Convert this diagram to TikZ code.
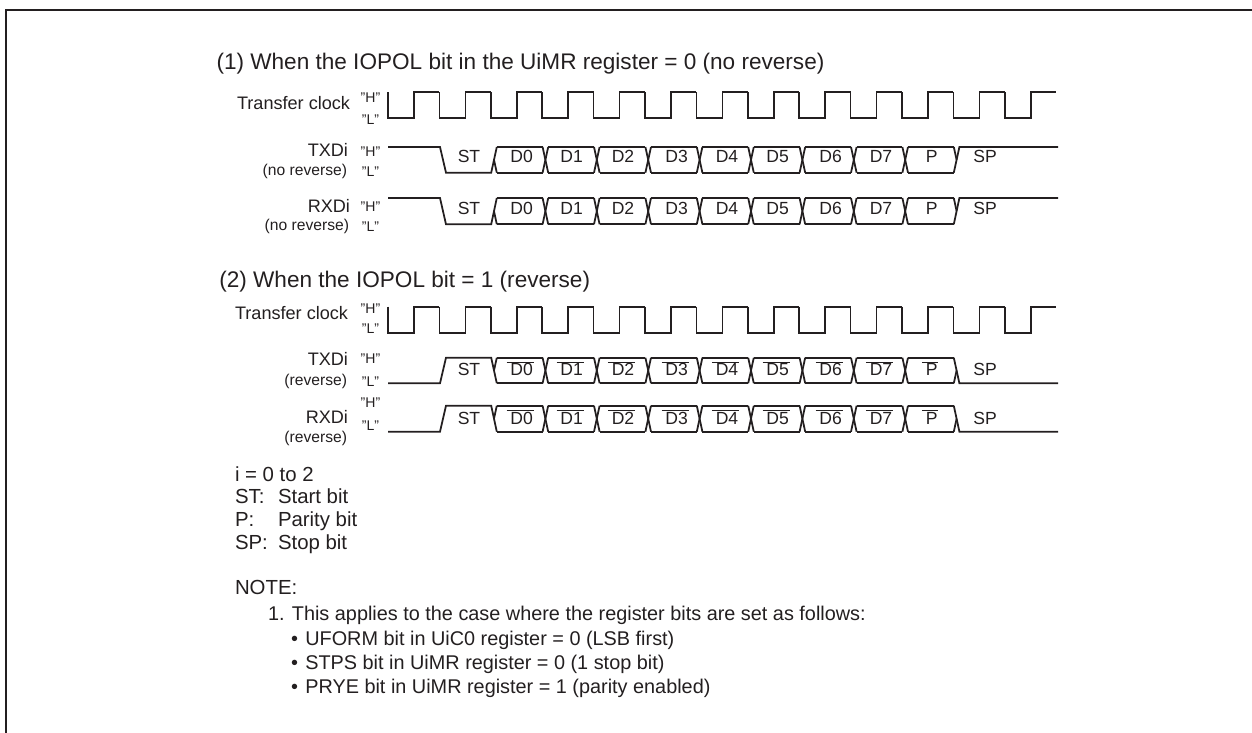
\documentclass[tikz,border=0pt]{standalone}
\usepackage{fontspec}
\setmainfont{Liberation Sans}
\usepackage{amsmath}
\usetikzlibrary{positioning}
\definecolor{ink}{HTML}{231F20}

\newcommand{\barred}[1]{%
  \setbox0=\hbox{#1}\rlap{\hspace{-2.2pt}\rule[7.5pt]{\dimexpr\wd0+2.6pt\relax}{0.45pt}}\box0}
\newcommand{\clockwave}[2]{%
  \foreach \k in {0,...,12}
    \draw[wave] ({388+51.4*\k},#1) -- ({388+51.4*\k},#2) -- ({414+51.4*\k},#2)
      -- ({414+51.4*\k},#1) -- ({439.4+51.4*\k},#1);
}
\newcommand{\datacells}[2]{%
  \foreach \k in {1,...,8} {
    \draw[wave] ({494+51.4*\k-2.8},#1) -- ({494+51.4*\k+2.8},#2);
    \draw[wave] ({494+51.4*\k-2.8},#2) -- ({494+51.4*\k+2.8},#1);
  }
  \foreach \k in {0,...,8} {
    \draw[wave] ({494+51.4*\k+2.8},#1) -- ({494+51.4*(\k+1)-2.8},#1);
    \draw[wave] ({494+51.4*\k+2.8},#2) -- ({494+51.4*(\k+1)-2.8},#2);
  }
}
%% no reverse: #1 = "H" level, #2 = "L" level
\newcommand{\framenorm}[2]{%
  \draw[wave] (388,#1) -- (440,#1) -- (446,#2) -- (491.2,#2) -- (496.8,#1);
  \draw[wave] (494,{(#1+#2)/2}) -- (496.8,#2);
  \datacells{#1}{#2}
  \draw[wave] (953.8,#1) -- (956.6,{(#1+#2)/2});
  \draw[wave] (953.8,#2) -- (959.4,#1) -- (1058,#1);
}
%% reverse
\newcommand{\framerev}[2]{%
  \draw[wave] (388,#2) -- (440,#2) -- (446,#1) -- (491.2,#1) -- (496.8,#2);
  \draw[wave] (494,{(#1+#2)/2}) -- (496.8,#1);
  \datacells{#1}{#2}
  \draw[wave] (953.8,#2) -- (956.6,{(#1+#2)/2});
  \draw[wave] (953.8,#1) -- (959.4,#2) -- (1058,#2);
}
\newcommand{\celltexts}[1]{%
  \foreach \name/\xpos in {ST/469,D0/521.7,D1/571.7,D2/623,D3/676.7,D4/727,D5/777.7,D6/830.7,D7/881,P/931.7,SP/985}
    \node[cell] at (\xpos,#1) {\name};
}
\newcommand{\celltextsrev}[1]{%
  \foreach \name/\xpos in {D0/521.7,D1/571.7,D2/623,D3/676.7,D4/727,D5/777.7,D6/830.7,D7/881,P/931.7}
    \node[cell] at (\xpos,#1) {\barred{\name}};
  \node[cell] at (469,#1) {ST};
  \node[cell] at (985,#1) {SP};
}

\begin{document}
\begin{tikzpicture}[
  x=0.02cm,y=-0.02cm,
  every node/.style={text=ink, inner sep=0pt, outer sep=0pt},
  wave/.style={draw=ink, line width=1pt, line join=miter},
  border/.style={draw=ink, line width=1.4pt},
  head/.style={anchor=base west, font=\fontsize{12.85}{15}\selectfont},
  legend/.style={anchor=base west, font=\fontsize{11.6}{14}\selectfont},
  notes/.style={anchor=base west, font=\fontsize{11.3}{14}\selectfont},
  signame/.style={anchor=base east, font=\fontsize{10.3}{12}\selectfont},
  polar/.style={anchor=base east, font=\fontsize{8.9}{10}\selectfont},
  lev/.style={anchor=base, font=\fontsize{8}{9}\selectfont},
  cell/.style={anchor=base, font=\fontsize{10}{11}\selectfont},
]
\useasboundingbox (0,0) rectangle (1252,733);

%% ---------- FRAME ----------
\draw[border] (6,733) -- (6,10) -- (1252,10);

%% ---------- CASE 1: NO REVERSE ----------
\node[head] (headone) at (216.5,69.5) {(1) When the IOPOL bit in the UiMR register = 0 (no reverse)};

\node[signame] (clkone) at (350,110) {Transfer clock};
\node[lev] at (370.5,103) {"H"};
\node[lev] at (370.5,125) {"L"};
\clockwave{92.3}{118.3}

\node[signame] (txdone) at (348,157) {TXDi};
\node[polar] at (347,176) {(no reverse)};
\node[lev] at (370.5,157) {"H"};
\node[lev] at (370.5,177) {"L"};
\framenorm{147}{172.7}
\celltexts{163}

\node[signame] (rxdone) at (350,213) {RXDi};
\node[polar] at (349,231) {(no reverse)};
\node[lev] at (370.5,212) {"H"};
\node[lev] at (370.5,232) {"L"};
\framenorm{198}{224.3}
\celltexts{214.5}

%% ---------- CASE 2: REVERSE ----------
\node[head] (headtwo) at (219.3,288) {(2) When the IOPOL bit = 1 (reverse)};

\node[signame] (clktwo) at (348,320) {Transfer clock};
\node[lev] at (370.5,314) {"H"};
\node[lev] at (370.5,334) {"L"};
\clockwave{306.7}{332.7}

\node[signame] (txdtwo) at (348,366) {TXDi};
\node[polar] at (347,386) {(reverse)};
\node[lev] at (370.5,364) {"H"};
\node[lev] at (370.5,387) {"L"};
\framerev{357.7}{383.3}
\celltextsrev{375.7}

\node[signame] (rxdtwo) at (348,423) {RXDi};
\node[polar] at (347,442) {(reverse)};
\node[lev] at (370.5,408) {"H"};
\node[lev] at (370.5,431) {"L"};
\framerev{405.7}{431.7}
\celltextsrev{424}

%% ---------- LEGEND ----------
\node[legend] at (235,481) {i = 0 to 2};
\node[legend] at (235,503) {ST:};
\node[legend] at (278,503) {Start bit};
\node[legend] at (235,526) {P:};
\node[legend] at (278,526) {Parity bit};
\node[legend] at (235,549) {SP:};
\node[legend] at (278,549) {Stop bit};

%% ---------- NOTE ----------
\node[legend] at (235,594) {NOTE:};
\node[notes] at (268,620) {1. This applies to the case where the register bits are set as follows:};
\node[notes] at (291,645) {•\hspace{4.2pt}UFORM bit in UiC0 register = 0 (LSB first)};
\node[notes] at (291,669) {•\hspace{4.2pt}STPS bit in UiMR register = 0 (1 stop bit)};
\node[notes] at (291,693) {•\hspace{4.2pt}PRYE bit in UiMR register = 1 (parity enabled)};
\end{tikzpicture}
\end{document}
